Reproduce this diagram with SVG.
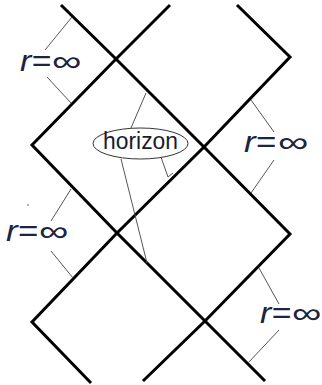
<svg xmlns="http://www.w3.org/2000/svg" width="322" height="385" viewBox="0 0 322 385">
<style>
.thick{fill:none;stroke:#000;stroke-width:3;stroke-linejoin:miter;stroke-linecap:butt}
.thin{fill:none;stroke:#555;stroke-width:1}
.r{font-family:"Liberation Sans",Arial,sans-serif;font-style:italic;font-size:29px;fill:#1c2440}
.h{font-family:"Liberation Sans",Arial,sans-serif;font-size:23px;fill:#1a1a2e}
</style>
<rect width="322" height="385" fill="#fff"/>
<g id="connectors">
<polyline class="thick" points="61,5 116,59 204,147 290,234 205,321 143,381"/>
<polyline class="thick" points="170,5 116,59 32,145 117,233 204,320 265,381"/>
<polyline class="thick" points="237,5 290,57 204,147 117,233 32,322 91,383"/>
</g>
<g id="label-r1">
<line class="thin" x1="45" y1="50" x2="72" y2="17"/>
<line class="thin" x1="47" y1="77" x2="71" y2="103"/>
<text class="r" x="20" y="71" textLength="31" lengthAdjust="spacingAndGlyphs">r=</text>
<text class="r" x="52" y="71" textLength="29" lengthAdjust="spacingAndGlyphs">∞</text>
</g>
<g id="label-r2">
<line class="thin" x1="251" y1="100" x2="274" y2="132"/>
<line class="thin" x1="274" y1="160" x2="251" y2="193"/>
<text class="r" x="244" y="152" textLength="32" lengthAdjust="spacingAndGlyphs">r=</text>
<text class="r" x="278" y="152" textLength="30" lengthAdjust="spacingAndGlyphs">∞</text>
</g>
<g id="label-r3">
<line class="thin" x1="51" y1="221" x2="71" y2="189"/>
<line class="thin" x1="51" y1="251" x2="73" y2="278"/>
<circle cx="28" cy="205" r="0.8" fill="#555"/>
<text class="r" x="6" y="241" textLength="32" lengthAdjust="spacingAndGlyphs">r=</text>
<text class="r" x="39" y="241" textLength="29" lengthAdjust="spacingAndGlyphs">∞</text>
</g>
<g id="label-r4">
<line class="thin" x1="259" y1="268" x2="279" y2="304"/>
<line class="thin" x1="279" y1="330" x2="248" y2="363"/>
<text class="r" x="260" y="323" textLength="31" lengthAdjust="spacingAndGlyphs">r=</text>
<text class="r" x="292" y="323" textLength="29" lengthAdjust="spacingAndGlyphs">∞</text>
</g>
<g id="horizon">
<line class="thin" x1="131" y1="128" x2="146" y2="93"/>
<line class="thin" x1="121" y1="159" x2="147" y2="263"/>
<polyline class="thin" points="161,157 168,177 173,173"/>
<ellipse cx="140.5" cy="143.5" rx="47.5" ry="15.5" fill="#fff" stroke="#333" stroke-width="1"/>
<text class="h" x="103" y="149" textLength="75" lengthAdjust="spacingAndGlyphs">horizon</text>
</g>
</svg>
